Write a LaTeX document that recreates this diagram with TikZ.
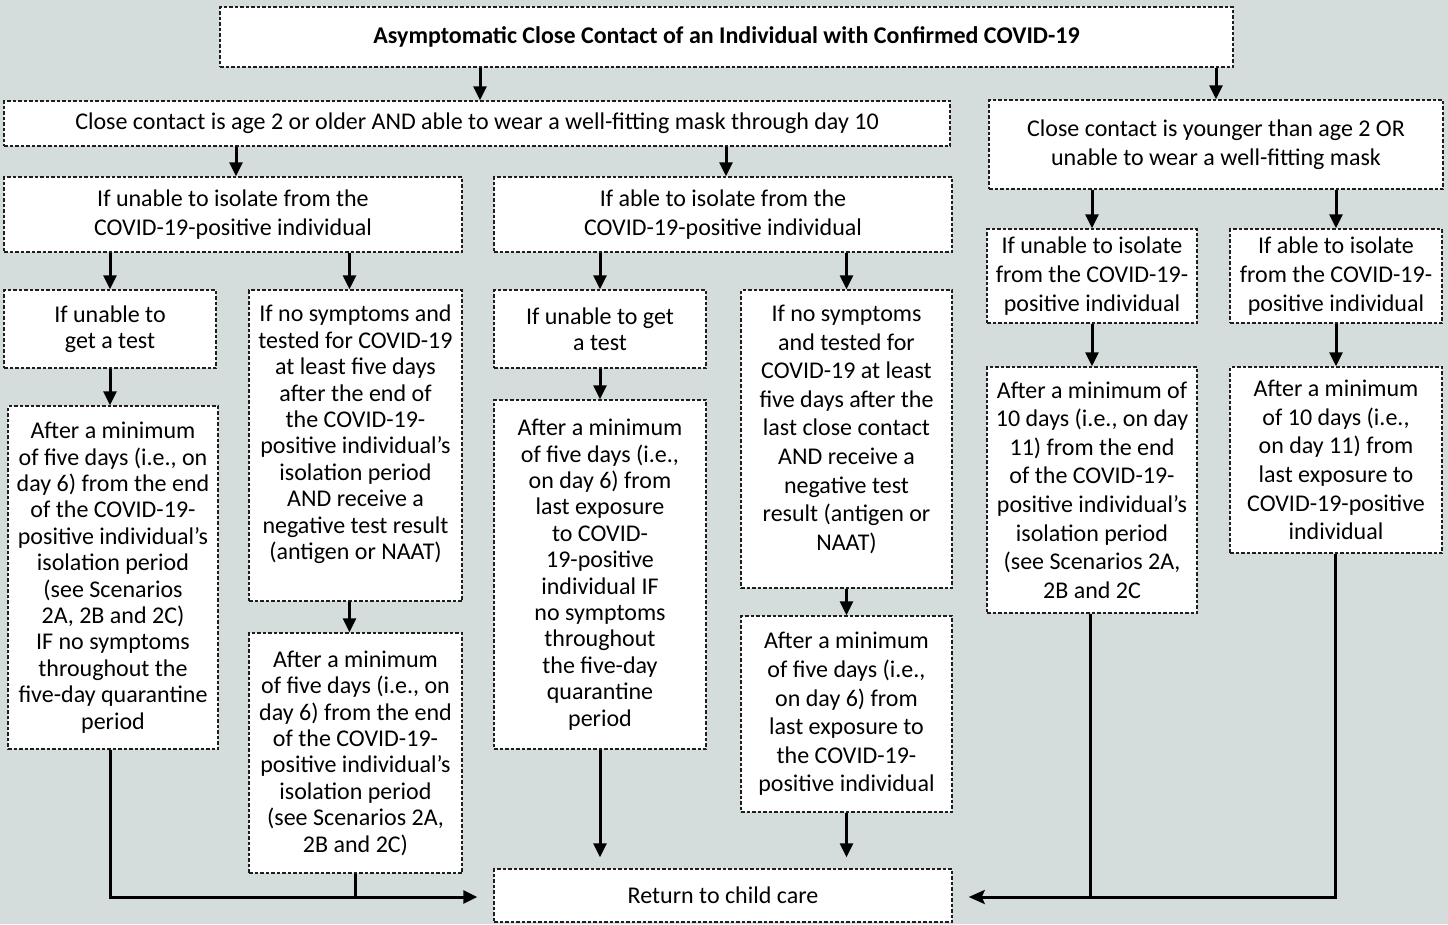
\documentclass[tikz,border=0pt]{standalone}
\usepackage{fontspec}
\setmainfont{Carlito}
\usetikzlibrary{arrows.meta,calc}
\definecolor{bgc}{RGB}{212,221,219}
\definecolor{dashc}{RGB}{30,30,30}
\tikzset{
  box/.style={draw=dashc, fill=white, line width=1.5pt, dash pattern=on 3.5pt off 2pt,
    inner sep=0pt, align=center, font=\fontsize{24pt}{26.4pt}\selectfont},
  boxw/.style={box, font=\fontsize{24pt}{28.6pt}\selectfont},
  arr/.style={line width=3pt, -{Triangle[length=14pt,width=13pt]}},
  larr/.style={line width=3pt, -{Stealth[length=16pt,width=14pt,inset=3pt]}},
  ln/.style={line width=3pt},
}
\begin{document}
\begin{tikzpicture}[x=1pt,y=-1pt]
\fill[bgc] (0,0) rectangle (1448,924);
\useasboundingbox (0,0) rectangle (1448,924);

\node[box, minimum width=1013pt, minimum height=60pt, font=\bfseries\fontsize{24pt}{26pt}\selectfont] (top) at (726.5,37) {Asymptomatic Close Contact of an Individual with Confirmed COVID-19};
\node[box, minimum width=946pt, minimum height=45pt] (A) at (477,123.5) {Close contact is age 2 or older AND able to wear a well-fitting mask through day 10};
\node[boxw, minimum width=454pt, minimum height=89pt] (B) at (1216,144.5) {Close contact is younger than age 2 OR\\unable to wear a well-fitting mask};

\node[boxw, minimum width=458pt, minimum height=75pt] (C) at (233,214.5) {If unable to isolate from the\\COVID-19-positive individual};
\node[boxw, minimum width=458pt, minimum height=75pt] (D) at (723,214.5) {If able to isolate from the\\COVID-19-positive individual};

\node[box, minimum width=212pt, minimum height=78pt] (E1) at (110,329) {If unable to\\get a test};
\node[box, minimum width=213pt, minimum height=311pt] (E2) at (355.5,445.5) {If no symptoms and\\tested for COVID-19\\at least five days\\after the end of\\the COVID-19-\\positive individual’s\\isolation period\\AND receive a\\negative test result\\(antigen or NAAT)\\ \mbox{}};
\node[box, minimum width=212pt, minimum height=78pt] (E3) at (600,329) {If unable to get\\a test};
\node[boxw, minimum width=211pt, minimum height=298pt] (E4) at (846.5,439) {If no symptoms\\and tested for\\COVID-19 at least\\five days after the\\last close contact\\AND receive a\\negative test\\result (antigen or\\NAAT)\\[-6pt]\mbox{}};

\node[box, minimum width=210pt, minimum height=343pt] (F1) at (113,577.5) {After a minimum\\of five days (i.e., on\\day 6) from the end\\of the COVID-19-\\positive individual’s\\isolation period\\(see Scenarios\\2A, 2B and 2C)\\IF no symptoms\\throughout the\\five-day quarantine\\period};
\node[box, minimum width=213pt, minimum height=240pt] (F2) at (355.5,753) {After a minimum\\of five days (i.e., on\\day 6) from the end\\of the COVID-19-\\positive individual’s\\isolation period\\(see Scenarios 2A,\\2B and 2C)};
\node[box, minimum width=212pt, minimum height=349pt] (F3) at (600,574.5) {After a minimum\\of five days (i.e.,\\on day 6) from\\last exposure\\to COVID-\\19-positive\\individual IF\\no symptoms\\throughout\\the five-day\\quarantine\\period};
\node[boxw, minimum width=211pt, minimum height=196pt] (F4) at (846.5,714) {After a minimum\\of five days (i.e.,\\on day 6) from\\last exposure to\\the COVID-19-\\positive individual};

\node[boxw, minimum width=210pt, minimum height=94pt] (G1) at (1092,276) {If unable to isolate\\from the COVID-19-\\positive individual};
\node[boxw, minimum width=212pt, minimum height=94pt] (G2) at (1336,276) {If able to isolate\\from the COVID-19-\\positive individual};
\node[boxw, minimum width=210pt, minimum height=246pt] (H1) at (1092,490) {After a minimum of\\10 days (i.e., on day\\11) from the end\\of the COVID-19-\\positive individual’s\\isolation period\\(see Scenarios 2A,\\2B and 2C};
\node[boxw, minimum width=212pt, minimum height=186pt] (H2) at (1336,460) {After a minimum\\of 10 days (i.e.,\\on day 11) from\\last exposure to\\COVID-19-positive\\individual};

\node[box, minimum width=458pt, minimum height=53pt] (R) at (723,895.5) {Return to child care};

% connectors
\draw[arr] ($(top.south -| A.north)+(3,0)$) -- ($(A.north)+(3,0)$);
\draw[arr] (top.south -| B.north) -- (B.north);
\draw[arr] ($(A.south -| C.north)+(3,0)$) -- ($(C.north)+(3,0)$);
\draw[arr] ($(A.south -| D.north)+(3,0)$) -- ($(D.north)+(3,0)$);
\draw[arr] (C.south -| E1.north) -- (E1.north);
\draw[arr] ($(C.south -| E2.north)+(-6,0)$) -- ($(E2.north)+(-6,0)$);
\draw[arr] (D.south -| E3.north) -- (E3.north);
\draw[arr] (D.south -| E4.north) -- (E4.north);
\draw[arr] (E1.south) -- (E1.south |- F1.north);
\draw[arr] ($(E2.south)+(-6,0)$) -- ($(E2.south |- F2.north)+(-6,0)$);
\draw[arr] (E3.south) -- (E3.south |- F3.north);
\draw[arr] (E4.south) -- (E4.south |- F4.north);
\draw[arr] (B.south -| G1.north) -- (G1.north);
\draw[arr] (B.south -| G2.north) -- (G2.north);
\draw[arr] (G1.south) -- (H1.north);
\draw[arr] (G2.south) -- (H2.north);

\draw[arr] (F3.south) -- ($(F3.south |- R.north)+(0,-11)$);
\draw[arr] (F4.south) -- ($(F4.south |- R.north)+(0,-11)$);
\draw[arr] ($(F1.south)+(-3,0)$) |- ($(R.west)+(-16,1.5)$);
\draw[ln] (F2.south) -- ($(F2.south |- R.west)+(0,1.5)$);
\draw[larr] ($(H2.south)+(-1,0)$) |- ($(R.east)+(16,1.5)$);
\draw[ln] ($(H1.south)+(-2,0)$) -- ($(H1.south |- R.east)+(-2,1.5)$);
\end{tikzpicture}
\end{document}
